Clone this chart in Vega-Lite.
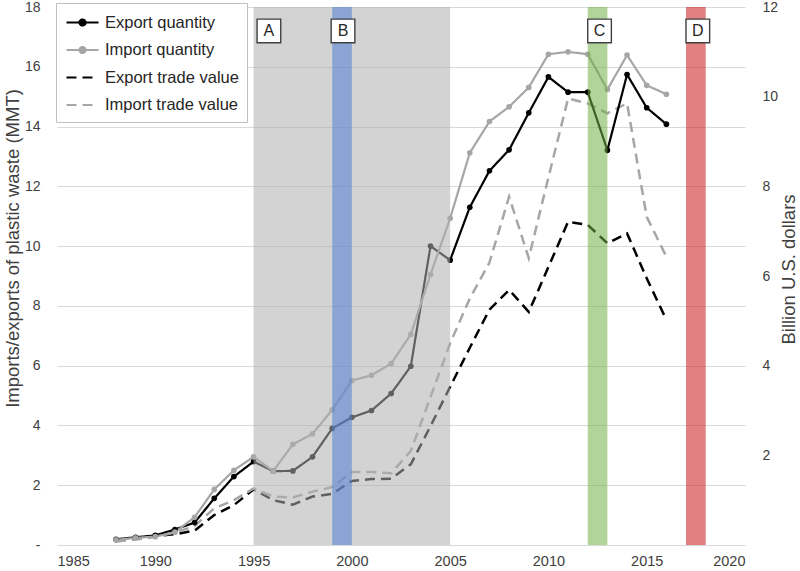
{
  "$schema": "https://vega.github.io/schema/vega-lite/v6.json",
  "width": 688,
  "height": 538,
  "autosize": {"type": "none"},
  "padding": {"left": 57, "top": 7, "right": 55, "bottom": 26},
  "background": "white",
  "config": {
    "font": "Liberation Sans",
    "view": {"stroke": null},
    "axis": {"labelFont": "Liberation Sans", "titleFont": "Liberation Sans"}
  },
  "datasets": {
    "trade": [
      {"year": 1988, "Export quantity": 0.19, "Import quantity": 0.17, "Export trade value": 0.10, "Import trade value": 0.08},
      {"year": 1989, "Export quantity": 0.26, "Import quantity": 0.24, "Export trade value": 0.14, "Import trade value": 0.12},
      {"year": 1990, "Export quantity": 0.32, "Import quantity": 0.28, "Export trade value": 0.20, "Import trade value": 0.18},
      {"year": 1991, "Export quantity": 0.52, "Import quantity": 0.43, "Export trade value": 0.24, "Import trade value": 0.28},
      {"year": 1992, "Export quantity": 0.75, "Import quantity": 0.93, "Export trade value": 0.32, "Import trade value": 0.42},
      {"year": 1993, "Export quantity": 1.56, "Import quantity": 1.86, "Export trade value": 0.67, "Import trade value": 0.82},
      {"year": 1994, "Export quantity": 2.29, "Import quantity": 2.5, "Export trade value": 0.89, "Import trade value": 1.0},
      {"year": 1995, "Export quantity": 2.79, "Import quantity": 2.95, "Export trade value": 1.24, "Import trade value": 1.26},
      {"year": 1996, "Export quantity": 2.47, "Import quantity": 2.47, "Export trade value": 1.0, "Import trade value": 1.08},
      {"year": 1997, "Export quantity": 2.48, "Import quantity": 3.37, "Export trade value": 0.9, "Import trade value": 1.06},
      {"year": 1998, "Export quantity": 2.95, "Import quantity": 3.72, "Export trade value": 1.08, "Import trade value": 1.19},
      {"year": 1999, "Export quantity": 3.9, "Import quantity": 4.52, "Export trade value": 1.14, "Import trade value": 1.29},
      {"year": 2000, "Export quantity": 4.27, "Import quantity": 5.5, "Export trade value": 1.43, "Import trade value": 1.63},
      {"year": 2001, "Export quantity": 4.5, "Import quantity": 5.68, "Export trade value": 1.47, "Import trade value": 1.63},
      {"year": 2002, "Export quantity": 5.07, "Import quantity": 6.07, "Export trade value": 1.48, "Import trade value": 1.6},
      {"year": 2003, "Export quantity": 5.98, "Import quantity": 7.05, "Export trade value": 1.8, "Import trade value": 2.1},
      {"year": 2004, "Export quantity": 10.0, "Import quantity": 9.05, "Export trade value": 2.65, "Import trade value": 3.3},
      {"year": 2005, "Export quantity": 9.53, "Import quantity": 10.93, "Export trade value": 3.53, "Import trade value": 4.5},
      {"year": 2006, "Export quantity": 11.3, "Import quantity": 13.12, "Export trade value": 4.4, "Import trade value": 5.5},
      {"year": 2007, "Export quantity": 12.52, "Import quantity": 14.17, "Export trade value": 5.25, "Import trade value": 6.3},
      {"year": 2008, "Export quantity": 13.22, "Import quantity": 14.66, "Export trade value": 5.69, "Import trade value": 7.77},
      {"year": 2009, "Export quantity": 14.46, "Import quantity": 15.31, "Export trade value": 5.2, "Import trade value": 6.4},
      {"year": 2010, "Export quantity": 15.66, "Import quantity": 16.42, "Export trade value": 6.2, "Import trade value": 8.2},
      {"year": 2011, "Export quantity": 15.15, "Import quantity": 16.5, "Export trade value": 7.21, "Import trade value": 9.96},
      {"year": 2012, "Export quantity": 15.15, "Import quantity": 16.42, "Export trade value": 7.14, "Import trade value": 9.85},
      {"year": 2013, "Export quantity": 13.21, "Import quantity": 15.24, "Export trade value": 6.73, "Import trade value": 9.63},
      {"year": 2014, "Export quantity": 15.74, "Import quantity": 16.39, "Export trade value": 6.95, "Import trade value": 9.85},
      {"year": 2015, "Export quantity": 14.63, "Import quantity": 15.38, "Export trade value": 5.95, "Import trade value": 7.32},
      {"year": 2016, "Export quantity": 14.08, "Import quantity": 15.08, "Export trade value": 5.02, "Import trade value": 6.43}
    ],
    "bands": [
      {"band": "A", "start": 1995, "end": 2005},
      {"band": "B", "start": 1999, "end": 2000},
      {"band": "C", "start": 2012, "end": 2013},
      {"band": "D", "start": 2017, "end": 2018}
    ],
    "tags": [
      {"tag": "A", "tx": 1995.78, "ty": 17.2},
      {"tag": "B", "tx": 1999.55, "ty": 17.2},
      {"tag": "C", "tx": 2012.6, "ty": 17.2},
      {"tag": "D", "tx": 2017.6, "ty": 17.2}
    ]
  },
  "layer": [
    {
      "data": {"name": "trade"},
      "transform": [{"fold": ["Export trade value", "Import trade value"], "as": ["series", "value"]}],
      "mark": {"type": "line", "strokeWidth": 2.5},
      "encoding": {
        "x": {
          "field": "year", "type": "quantitative",
          "scale": {"domain": [1985, 2020], "nice": false, "zero": false},
          "axis": {
            "values": [1985, 1990, 1995, 2000, 2005, 2010, 2015, 2020],
            "format": "d", "title": null, "grid": false, "domain": false, "ticks": false,
            "labelFontSize": 14.5, "labelPadding": 9, "labelColor": "#404040"
          }
        },
        "y": {
          "field": "value", "type": "quantitative",
          "scale": {"domain": [0, 12], "nice": false},
          "axis": {
            "orient": "right", "values": [2, 4, 6, 8, 10, 12], "grid": false, "domain": false, "ticks": false,
            "labelFontSize": 14, "labelPadding": 17, "labelColor": "#404040",
            "title": "Billion U.S. dollars", "titleFontSize": 18.5, "titleFontWeight": "normal", "titleColor": "#404040",
            "titleAngle": -90, "titleX": 43, "titleY": 262, "titleBaseline": "middle", "titleAlign": "center"
          }
        },
        "color": {
          "field": "series", "type": "nominal",
          "scale": {
            "domain": ["Export quantity", "Import quantity", "Export trade value", "Import trade value"],
            "range": ["#000000", "#a6a6a6", "#000000", "#a6a6a6"]
          },
          "legend": {
            "orient": "none", "legendX": -1, "legendY": -4, "title": null,
            "symbolSize": 400, "symbolStrokeWidth": 2.2,
            "labelFontSize": 16.5, "labelFont": "Liberation Sans", "labelColor": "#262626", "labelOffset": 18,
            "fillColor": "white", "strokeColor": "#bfbfbf", "padding": 8, "rowPadding": 7.5,
            "encode": {
              "symbols": {
                "update": {
                  "shape": {"signal": "indexof(datum.value, 'quantity') >= 0 ? 'M-0.9,0L2.3,0M0.4,0A0.3,0.3 0 1 1 1.0,0A0.3,0.3 0 1 1 0.4,0Z' : 'M-0.9,0L2.3,0'"},
                  "fill": {"signal": "indexof(datum.value, 'quantity') >= 0 ? (indexof(datum.value, 'Export') >= 0 ? '#000000' : '#a6a6a6') : 'transparent'"},
                  "strokeDash": {"signal": "indexof(datum.value, 'quantity') >= 0 ? [1, 0] : [11, 9]"}
                }
              }
            }
          }
        },
        "strokeDash": {
          "field": "series", "type": "nominal",
          "scale": {
            "domain": ["Export quantity", "Import quantity", "Export trade value", "Import trade value"],
            "range": [[1, 0], [1, 0], [10, 6], [10, 6]]
          },
          "legend": {
            "orient": "none", "legendX": -1, "legendY": -4, "title": null,
            "symbolSize": 400, "symbolStrokeWidth": 2.2,
            "labelFontSize": 16.5, "labelFont": "Liberation Sans", "labelColor": "#262626", "labelOffset": 18,
            "fillColor": "white", "strokeColor": "#bfbfbf", "padding": 8, "rowPadding": 7.5,
            "encode": {
              "symbols": {
                "update": {
                  "shape": {"signal": "indexof(datum.value, 'quantity') >= 0 ? 'M-0.9,0L2.3,0M0.4,0A0.3,0.3 0 1 1 1.0,0A0.3,0.3 0 1 1 0.4,0Z' : 'M-0.9,0L2.3,0'"},
                  "fill": {"signal": "indexof(datum.value, 'quantity') >= 0 ? (indexof(datum.value, 'Export') >= 0 ? '#000000' : '#a6a6a6') : 'transparent'"},
                  "strokeDash": {"signal": "indexof(datum.value, 'quantity') >= 0 ? [1, 0] : [11, 9]"}
                }
              }
            }
          }
        }
      }
    },
    {
      "layer": [
        {
          "data": {"name": "trade"},
          "transform": [{"fold": ["Export quantity", "Import quantity"], "as": ["series", "value"]}],
          "mark": {"type": "line", "strokeWidth": 2.2, "point": {"filled": true, "size": 32}},
          "encoding": {
            "x": {"field": "year", "type": "quantitative"},
            "y": {
              "field": "value", "type": "quantitative",
              "scale": {"domain": [0, 18], "nice": false},
              "axis": {
                "orient": "left", "values": [0, 2, 4, 6, 8, 10, 12, 14, 16, 18],
                "labelExpr": "datum.value == 0 ? '-' : datum.label",
                "grid": true, "gridColor": "#d9d9d9", "gridWidth": 1, "domain": false, "ticks": false,
                "labelFontSize": 14, "labelPadding": 17, "labelColor": "#404040",
                "title": "Imports/exports of plastic waste (MMT)", "titleFontSize": 18.5, "titleFontWeight": "normal", "titleColor": "#404040",
                "titleAngle": -90, "titleX": -45, "titleY": 241, "titleBaseline": "middle", "titleAlign": "center"
              }
            },
            "color": {"field": "series", "type": "nominal"},
            "strokeDash": {"field": "series", "type": "nominal"}
          }
        },
        {
          "data": {"name": "bands"},
          "mark": {"type": "rect", "opacity": 0.55},
          "encoding": {
            "x": {"field": "start", "type": "quantitative"},
            "x2": {"field": "end"},
            "fill": {
              "field": "band", "type": "nominal",
              "scale": {"domain": ["A", "B", "C", "D"], "range": ["#afafaf", "#4e7fd7", "#71b149", "#c71818"]},
              "legend": null
            }
          }
        },
        {
          "data": {"name": "tags"},
          "mark": {"type": "point", "shape": "square", "filled": true, "fill": "white", "stroke": "#404040", "strokeWidth": 1.4, "size": 560, "opacity": 1},
          "encoding": {
            "x": {"field": "tx", "type": "quantitative"},
            "y": {"field": "ty", "type": "quantitative"}
          }
        },
        {
          "data": {"name": "tags"},
          "mark": {"type": "text", "fontSize": 16, "font": "Liberation Sans", "color": "#262626", "baseline": "middle", "align": "center"},
          "encoding": {
            "x": {"field": "tx", "type": "quantitative"},
            "y": {"field": "ty", "type": "quantitative"},
            "text": {"field": "tag", "type": "nominal"}
          }
        }
      ]
    }
  ],
  "resolve": {"scale": {"y": "independent"}}
}
